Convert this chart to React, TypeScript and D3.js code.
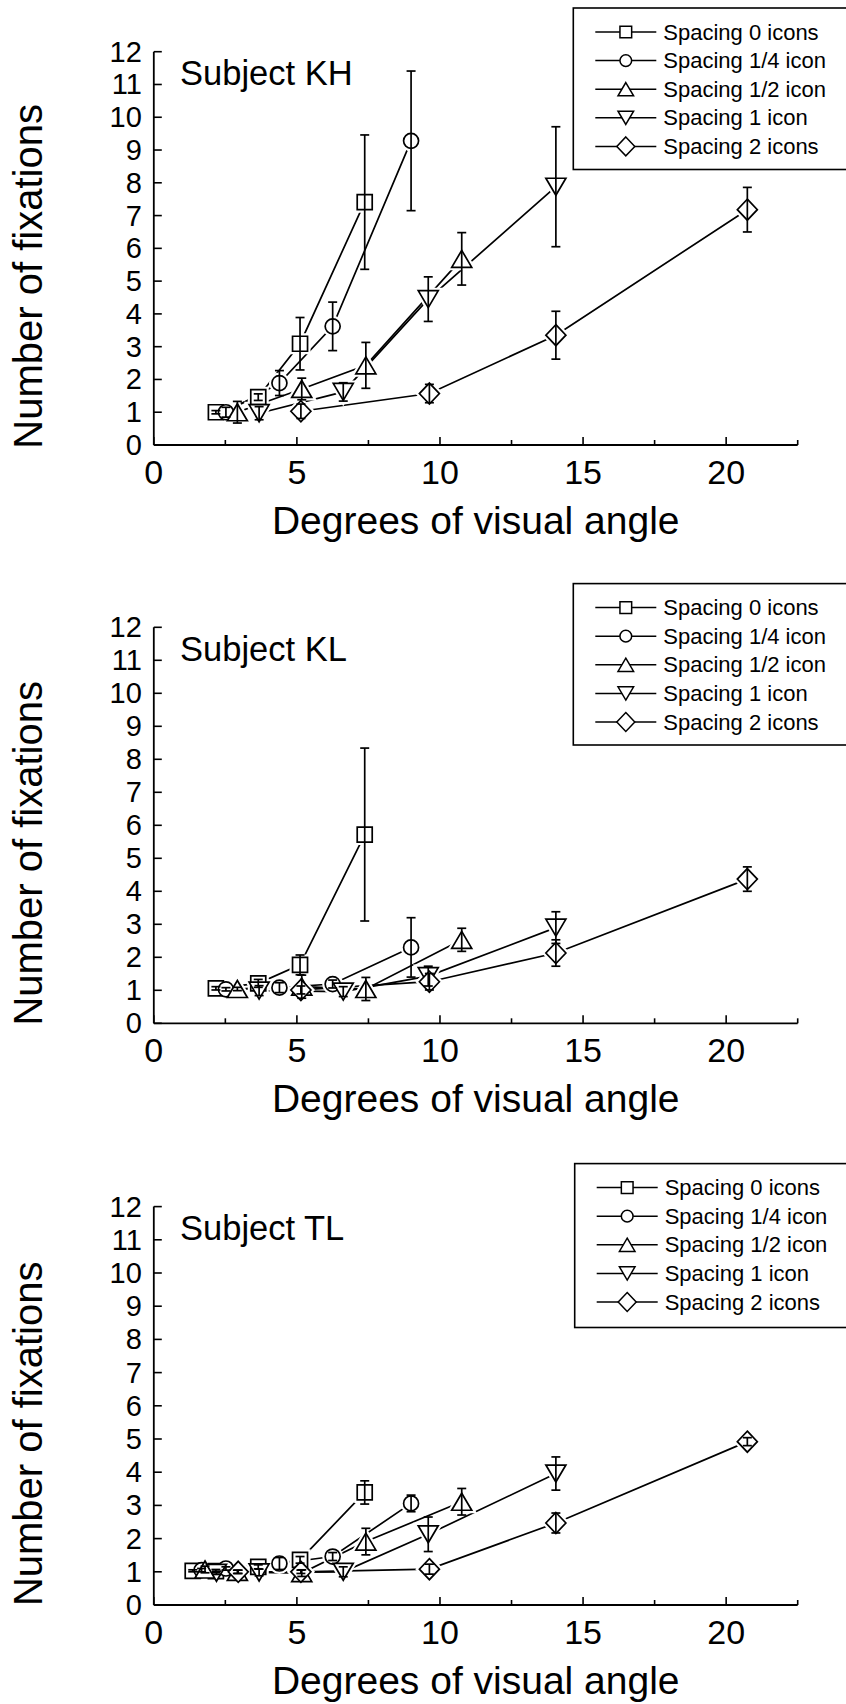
import React from 'react';
import * as d3 from 'd3';

// ---------- data ----------
const SERIES_LABELS = ['Spacing 0 icons', 'Spacing 1/4 icon', 'Spacing 1/2 icon', 'Spacing 1 icon', 'Spacing 2 icons'];
const SERIES_MARKERS = ['square', 'circle', 'triangle', 'triangleDown', 'diamond'];
const SUBJECTS = ['Subject KH', 'Subject KL', 'Subject TL'];
const X_TICK_LABELS = [0, 5, 10, 15, 20];
const X_TICKS_ALL = [0, 2.5, 5, 7.5, 10, 12.5, 15, 17.5, 20, 22.5];
const Y_TICKS = [0, 1, 2, 3, 4, 5, 6, 7, 8, 9, 10, 11, 12];

// visual angle (deg) per set size, for each spacing
const X_S0 = [2.17, 3.65, 5.11, 7.37];
const X_S14 = [2.52, 4.39, 6.25, 8.99];
const X_S12 = [2.92, 5.17, 7.41, 10.76];
const X_S1 = [3.68, 6.62, 9.59, 14.05];
const X_S2 = [5.14, 9.63, 14.05, 20.74];
// extra smallest set size (subject TL only), per spacing
const X_SMALLEST = [1.36, 1.67, 1.79, 2.19, 2.95];

// Subject KH: mean and error
const KH_S0 = [1.0, 1.46, 3.09, 7.41];
const KH_S0_ERR = [0.05, 0.1, 0.8, 2.05];
const KH_S14 = [1.0, 1.89, 3.62, 9.28];
const KH_S14_ERR = [0.15, 0.38, 0.74, 2.13];
const KH_S12 = [1.0, 1.71, 2.43, 5.68];
const KH_S12_ERR = [0.33, 0.33, 0.7, 0.8];
const KH_S1 = [0.97, 1.62, 4.45, 7.88];
const KH_S1_ERR = [0.2, 0.28, 0.68, 1.83];
const KH_S2 = [1.03, 1.57, 3.35, 7.18];
const KH_S2_ERR = [0.22, 0.28, 0.73, 0.68];

// Subject KL
const KL_S0 = [1.06, 1.21, 1.77, 5.72];
const KL_S0_ERR = [0.05, 0.12, 0.3, 2.62];
const KL_S14 = [1.03, 1.08, 1.19, 2.3];
const KL_S14_ERR = [0.05, 0.15, 0.12, 0.9];
const KL_S12 = [1.04, 1.11, 1.04, 2.53];
const KL_S12_ERR = [0.05, 0.35, 0.35, 0.35];
const KL_S1 = [0.99, 0.96, 1.43, 2.9];
const KL_S1_ERR = [0.15, 0.15, 0.3, 0.48];
const KL_S2 = [1.01, 1.26, 2.13, 4.37];
const KL_S2_ERR = [0.12, 0.25, 0.4, 0.37];

// Subject TL (five set sizes)
const TL_S0 = [1.03, 1.02, 1.15, 1.36, 3.39];
const TL_S0_ERR = [0.03, 0.05, 0.06, 0.1, 0.35];
const TL_S14 = [1.05, 1.1, 1.25, 1.46, 3.06];
const TL_S14_ERR = [0.05, 0.05, 0.18, 0.12, 0.25];
const TL_S12 = [1.07, 1.0, 0.96, 1.91, 3.11];
const TL_S12_ERR = [0.1, 0.05, 0.1, 0.4, 0.4];
const TL_S1 = [0.97, 0.98, 1.0, 2.13, 3.96];
const TL_S1_ERR = [0.05, 0.1, 0.15, 0.52, 0.5];
const TL_S2 = [1.0, 1.0, 1.08, 2.47, 4.92];
const TL_S2_ERR = [0.05, 0.05, 0.15, 0.3, 0.12];

// ---------- layout ----------
const W = 846;
const H = 1704;
const X_LEFT = 153.8;
const X_RIGHT = 797.7;
const PANELS = [
  { top: 51.7, bottom: 445, legTop: 8, legBottom: 169.5, legLeft: 573.3 },
  { top: 627.3, bottom: 1023.3, legTop: 583.6, legBottom: 745, legLeft: 573.3 },
  { top: 1206.6, bottom: 1605, legTop: 1163.6, legBottom: 1327.5, legLeft: 574.7 },
];
const FONT = 'Liberation Sans, Arial, Helvetica, sans-serif';
const SW = 1.7;

type Pt = { x: number; y: number; e: number };

function zipSeries(xs: number[], ys: number[], es: number[]): Pt[] {
  return xs.map((x, i) => ({ x, y: ys[i], e: es[i] }));
}

const X_BY_SERIES = [X_S0, X_S14, X_S12, X_S1, X_S2];
const SUBJECT_DATA: Pt[][][] = [
  [
    zipSeries(X_S0, KH_S0, KH_S0_ERR),
    zipSeries(X_S14, KH_S14, KH_S14_ERR),
    zipSeries(X_S12, KH_S12, KH_S12_ERR),
    zipSeries(X_S1, KH_S1, KH_S1_ERR),
    zipSeries(X_S2, KH_S2, KH_S2_ERR),
  ],
  [
    zipSeries(X_S0, KL_S0, KL_S0_ERR),
    zipSeries(X_S14, KL_S14, KL_S14_ERR),
    zipSeries(X_S12, KL_S12, KL_S12_ERR),
    zipSeries(X_S1, KL_S1, KL_S1_ERR),
    zipSeries(X_S2, KL_S2, KL_S2_ERR),
  ],
  [
    zipSeries([X_SMALLEST[0], ...X_BY_SERIES[0]], TL_S0, TL_S0_ERR),
    zipSeries([X_SMALLEST[1], ...X_BY_SERIES[1]], TL_S14, TL_S14_ERR),
    zipSeries([X_SMALLEST[2], ...X_BY_SERIES[2]], TL_S12, TL_S12_ERR),
    zipSeries([X_SMALLEST[3], ...X_BY_SERIES[3]], TL_S1, TL_S1_ERR),
    zipSeries([X_SMALLEST[4], ...X_BY_SERIES[4]], TL_S2, TL_S2_ERR),
  ],
];

function markerPath(type: string, cx: number, cy: number, k: number): string {
  const p = d3.path();
  if (type === 'square') {
    const s = 7.5 * k;
    p.rect(cx - s, cy - s, 2 * s, 2 * s);
  } else if (type === 'circle') {
    const r = 7.5 * k;
    p.moveTo(cx + r, cy);
    p.arc(cx, cy, r, 0, Math.PI * 2);
    p.closePath();
  } else if (type === 'triangle') {
    const w = 10 * k, h = 8.5 * k;
    p.moveTo(cx, cy - h);
    p.lineTo(cx + w, cy + h);
    p.lineTo(cx - w, cy + h);
    p.closePath();
  } else if (type === 'triangleDown') {
    const w = 10 * k, h = 8.5 * k;
    p.moveTo(cx, cy + h);
    p.lineTo(cx + w, cy - h);
    p.lineTo(cx - w, cy - h);
    p.closePath();
  } else {
    const w = 10 * k, h = 10.5 * k;
    p.moveTo(cx, cy - h);
    p.lineTo(cx + w, cy);
    p.lineTo(cx, cy + h);
    p.lineTo(cx - w, cy);
    p.closePath();
  }
  return p.toString();
}

function Panel({ idx }: { idx: number }) {
  const cfg = PANELS[idx];
  const data = SUBJECT_DATA[idx];
  const x = d3.scaleLinear().domain([0, 22.5]).range([X_LEFT, X_RIGHT]);
  const y = d3.scaleLinear().domain([0, 12]).range([cfg.bottom, cfg.top]);
  const line = d3
    .line<Pt>()
    .x((d) => x(d.x))
    .y((d) => y(d.y));
  const legRowY = (i: number) => cfg.legTop + 24 + i * 28.6;
  const plotMidY = (cfg.top + cfg.bottom) / 2;

  return (
    <g>
      {/* axes */}
      <line x1={X_LEFT} x2={X_LEFT} y1={cfg.top} y2={cfg.bottom} stroke="#000" strokeWidth={1.8} />
      <line x1={X_LEFT} x2={X_RIGHT} y1={cfg.bottom} y2={cfg.bottom} stroke="#000" strokeWidth={1.8} />
      {Y_TICKS.map((t) => (
        <g key={'yt' + t}>
          <line x1={X_LEFT} x2={X_LEFT + 8} y1={y(t)} y2={y(t)} stroke="#000" strokeWidth={1.6} />
          <text x={X_LEFT - 12} y={y(t) + 10} textAnchor="end" fontSize={29} fontFamily={FONT}>
            {t}
          </text>
        </g>
      ))}
      {X_TICKS_ALL.map((t) => (
        <line
          key={'xt' + t}
          x1={x(t)}
          x2={x(t)}
          y1={cfg.bottom}
          y2={cfg.bottom - (t % 5 === 0 ? 8 : 5)}
          stroke="#000"
          strokeWidth={1.6}
        />
      ))}
      {X_TICK_LABELS.map((t) => (
        <text key={'xl' + t} x={x(t)} y={cfg.bottom + 39} textAnchor="middle" fontSize={34} fontFamily={FONT}>
          {t}
        </text>
      ))}
      <text
        x={(X_LEFT + X_RIGHT) / 2}
        y={cfg.bottom + 89}
        textAnchor="middle"
        fontSize={39}
        fontFamily={FONT}
      >
        Degrees of visual angle
      </text>
      <text
        transform={`translate(41.7,${plotMidY + 28}) rotate(-90)`}
        textAnchor="middle"
        fontSize={40}
        fontFamily={FONT}
      >
        Number of fixations
      </text>
      <text x={180} y={cfg.top + 33.5} fontSize={34.5} fontFamily={FONT}>
        {SUBJECTS[idx]}
      </text>

      {/* connecting lines */}
      {data.map((s, si) => (
        <path key={'ln' + si} d={line(s) || ''} fill="none" stroke="#000" strokeWidth={SW} />
      ))}
      {/* marker halos */}
      {data.map((s, si) =>
        s.map((d, di) => (
          <path
            key={'h' + si + '-' + di}
            d={markerPath(SERIES_MARKERS[si], x(d.x), y(d.y), 1)}
            fill="#fff"
            stroke="#fff"
            strokeWidth={6}
          />
        ))
      )}
      {/* markers */}
      {data.map((s, si) =>
        s.map((d, di) => (
          <path
            key={'m' + si + '-' + di}
            d={markerPath(SERIES_MARKERS[si], x(d.x), y(d.y), 1)}
            fill="#fff"
            stroke="#000"
            strokeWidth={SW}
          />
        ))
      )}
      {/* error bars */}
      {data.map((s, si) =>
        s.map((d, di) => {
          const cx = x(d.x);
          const y1 = y(d.y + d.e);
          const y2 = y(d.y - d.e);
          return (
            <g key={'e' + si + '-' + di} stroke="#000" strokeWidth={SW}>
              <line x1={cx} x2={cx} y1={y1} y2={y2} />
              <line x1={cx - 4.5} x2={cx + 4.5} y1={y1} y2={y1} />
              <line x1={cx - 4.5} x2={cx + 4.5} y1={y2} y2={y2} />
            </g>
          );
        })
      )}

      {/* legend */}
      <rect
        x={cfg.legLeft}
        y={cfg.legTop}
        width={W + 4 - cfg.legLeft}
        height={cfg.legBottom - cfg.legTop}
        fill="#fff"
        stroke="#000"
        strokeWidth={1.6}
      />
      {SERIES_LABELS.map((lab, i) => {
        const ry = legRowY(i);
        const mx = cfg.legLeft + 52.5;
        return (
          <g key={'lg' + i}>
            <line x1={cfg.legLeft + 22} x2={cfg.legLeft + 83} y1={ry} y2={ry} stroke="#000" strokeWidth={1.5} />
            <path
              d={markerPath(SERIES_MARKERS[i], mx, ry, SERIES_MARKERS[i] === 'diamond' ? 0.9 : 0.78)}
              fill="#fff"
              stroke="#000"
              strokeWidth={1.5}
            />
            <text x={cfg.legLeft + 90} y={ry + 7.5} fontSize={22} fontFamily={FONT}>
              {lab}
            </text>
          </g>
        );
      })}
    </g>
  );
}

export default function App() {
  return (
    <svg
      width={W}
      height={H}
      viewBox={`0 0 ${W} ${H}`}
      style={{ position: 'absolute', left: 0, top: 0, background: '#fff' }}
    >
      <rect x={0} y={0} width={W} height={H} fill="#fff" />
      {PANELS.map((_, i) => (
        <Panel key={i} idx={i} />
      ))}
    </svg>
  );
}
